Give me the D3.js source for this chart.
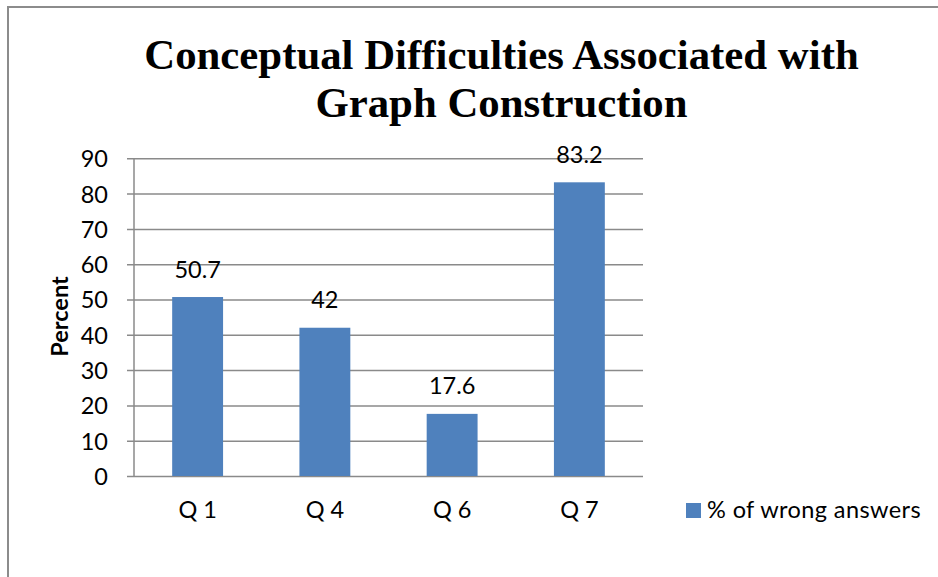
<!DOCTYPE html>
<html>

<head>
    <meta charset="utf-8">
    <title>Conceptual Difficulties Associated with Graph Construction</title>
    <script src="https://cdn.jsdelivr.net/npm/d3@7"></script>
    <style>
        body {
            margin: 0;
            background: #fff;
        }
        text {
            font-family: Lato, "Open Sans", sans-serif;
            fill: #000;
        }
        .title {
            font-family: "Liberation Serif", "Times New Roman", serif;
            font-weight: bold;
            font-size: 42.8px;
            text-anchor: middle;
        }
    </style>
</head>

<body>
</body>
<script>
    var categories = ['Q 1', 'Q 4', 'Q 6', 'Q 7'];
    var wrongAnswers = [50.7, 42, 17.6, 83.2];
    var yTicks = [0, 10, 20, 30, 40, 50, 60, 70, 80, 90];
    var titleLines = ['Conceptual Difficulties Associated with', 'Graph Construction'];
    var seriesName = '% of wrong answers';
    var yLabel = 'Percent';

    (function () {
        var width = 938, height = 577;
        var left = 134, right = 643, top = 158.3, bottom = 476;
        var barColor = '#4f81bd', gridColor = '#8a8a8a';
        var fs = 23.5;

        var svg = d3.select('body').append('svg').attr('width', width).attr('height', height);

        // outer frame (only top and left edges fall inside the picture)
        svg.append('rect').attr('x', 8).attr('y', 7).attr('width', 960).attr('height', 600)
            .attr('fill', 'none').attr('stroke', '#8c8c8c').attr('stroke-width', 2);

        svg.selectAll('.title').data(titleLines).enter().append('text')
            .attr('class', 'title')
            .attr('x', 501.5)
            .attr('y', (d, i) => 69 + i * 48)
            .text(d => d);

        var x = d3.scaleBand().domain(categories).range([left, right]).paddingInner(0.6).paddingOuter(0.3);
        var y = d3.scaleLinear().domain([0, 90]).range([bottom, top]);

        // gridlines + left ticks
        var yAxis = svg.append('g').attr('transform', 'translate(' + left + ',0)')
            .call(d3.axisLeft(y).tickValues(yTicks).tickSize(7));
        yAxis.select('.domain').attr('stroke', gridColor).attr('stroke-width', 1.5).attr('d', 'M0,' + top + 'V' + bottom);
        yAxis.selectAll('.tick line').attr('stroke', gridColor).attr('stroke-width', 1.5)
            .attr('x1', right - left).attr('x2', -7);
        yAxis.selectAll('.tick text').attr('font-size', fs).attr('font-family', 'Lato').attr('fill', '#000')
            .attr('dy', '0.36em').attr('x', -26);

        var xAxis = svg.append('g').attr('transform', 'translate(0,' + bottom + ')')
            .call(d3.axisBottom(x).tickSize(0));
        xAxis.select('.domain').remove();
        xAxis.selectAll('.tick text').attr('font-size', fs).attr('font-family', 'Lato').attr('fill', '#000')
            .attr('dy', 0).attr('y', 42);

        var data = categories.map((c, i) => ({ name: c, value: wrongAnswers[i] }));

        svg.selectAll('.bar').data(data).enter().append('rect')
            .attr('class', 'bar')
            .attr('x', d => x(d.name))
            .attr('y', d => y(d.value))
            .attr('width', x.bandwidth())
            .attr('height', d => y(0) - y(d.value))
            .attr('fill', barColor);

        svg.selectAll('.label').data(data).enter().append('text')
            .attr('class', 'label')
            .attr('x', d => x(d.name) + x.bandwidth() / 2)
            .attr('y', d => y(d.value) - 19.5)
            .attr('text-anchor', 'middle')
            .attr('font-size', fs)
            .text(d => d.value);

        svg.append('text')
            .attr('transform', 'translate(68,316.5) rotate(-90)')
            .attr('text-anchor', 'middle')
            .attr('font-size', fs)
            .attr('font-weight', 'bold')
            .text(yLabel);

        var legend = svg.append('g').attr('transform', 'translate(686,503)');
        legend.append('rect').attr('width', 15).attr('height', 15).attr('fill', barColor);
        legend.append('text').attr('x', 21).attr('y', 14.5).attr('font-size', fs).attr('letter-spacing', 0.4).text(seriesName);
    }).call(this);
</script>

</html>
